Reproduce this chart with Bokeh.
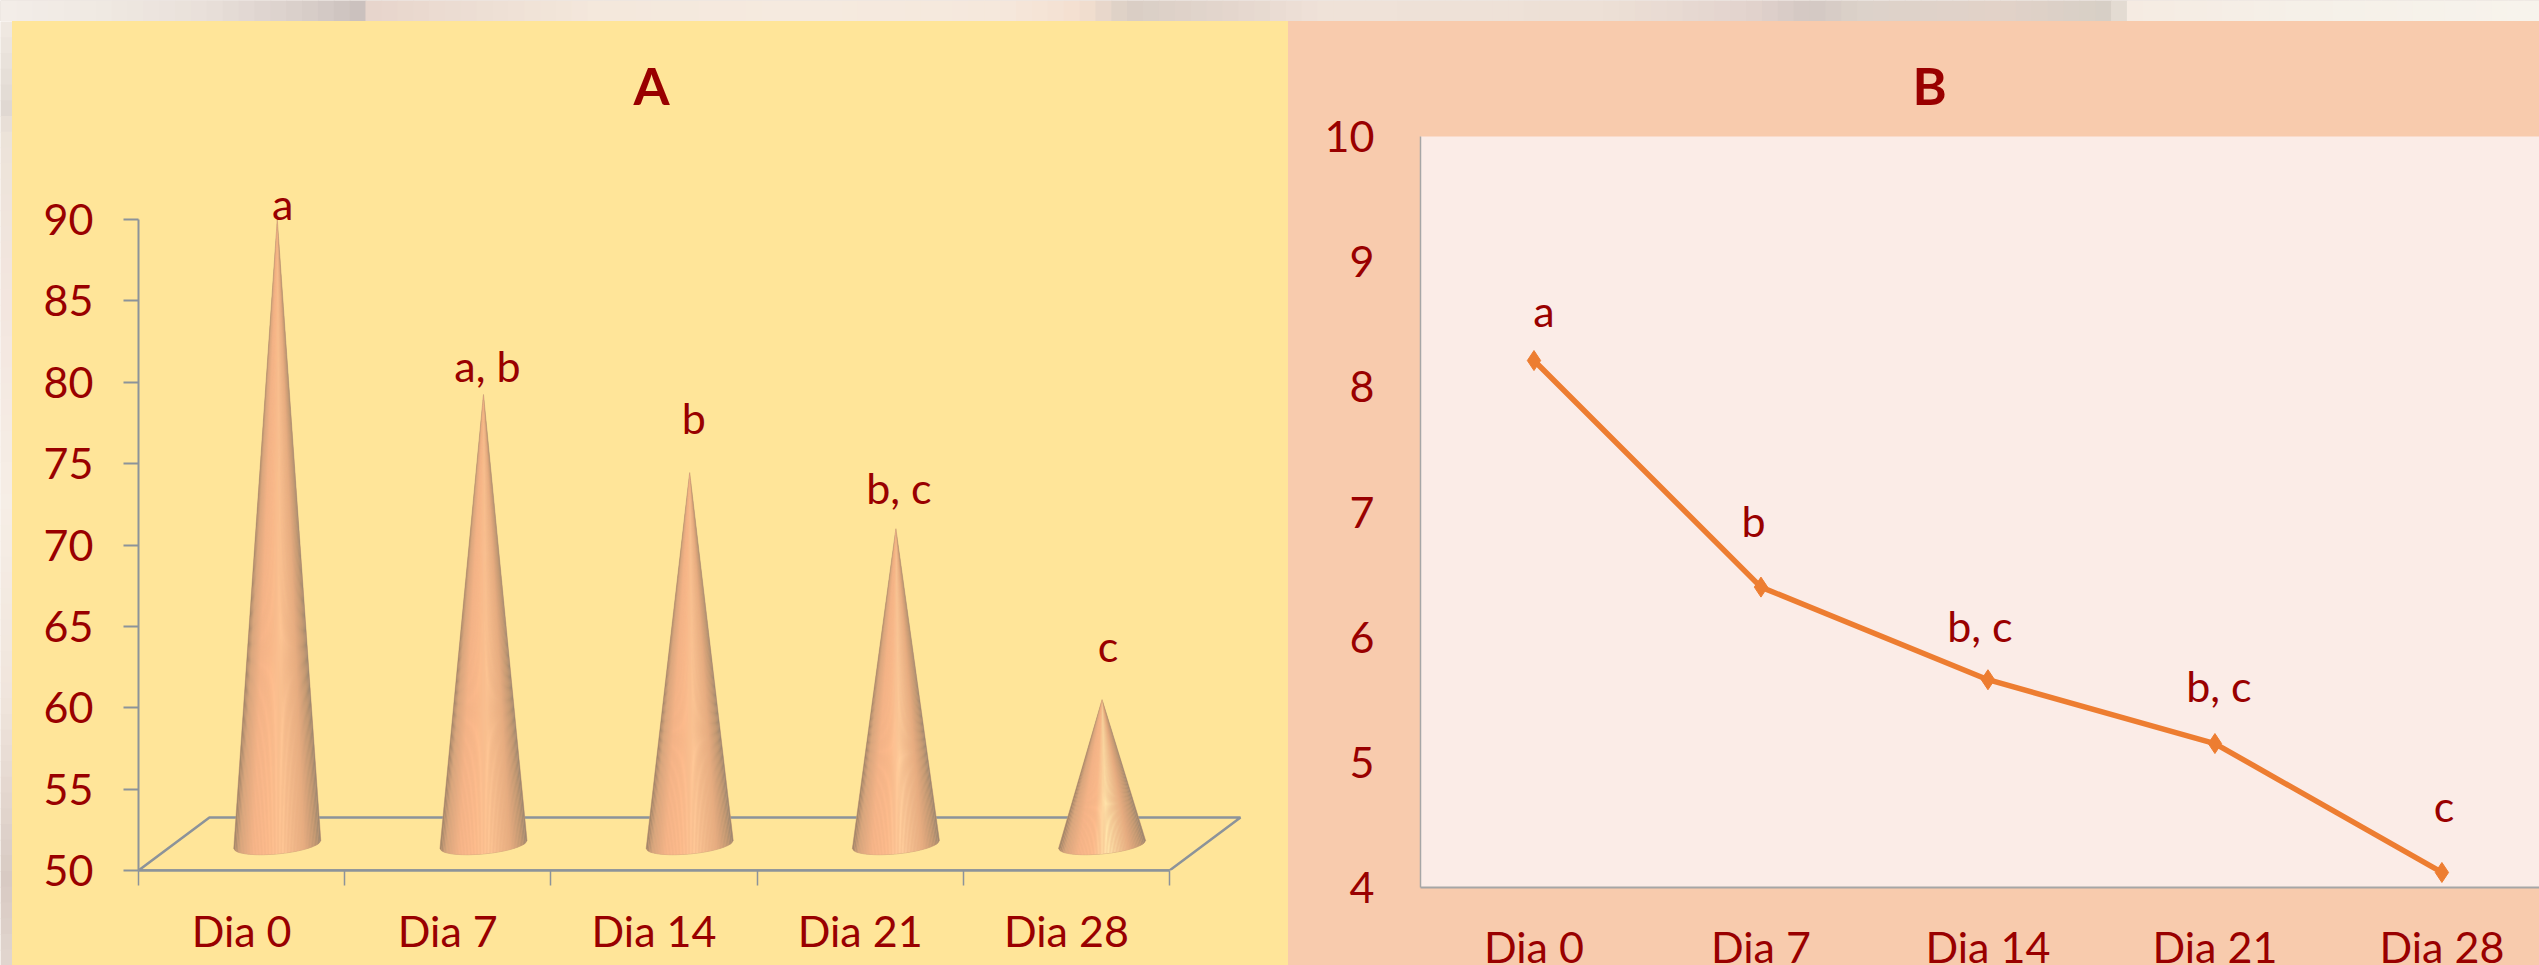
import numpy as np
from bokeh.embed import file_html
from bokeh.resources import INLINE
from bokeh.plotting import figure
from bokeh.models import ColumnDataSource, FixedTicker, LinearAxis, Range1d
from bokeh.layouts import column, row
from bokeh.core.properties import value

# ---- data ----
categories = ["Dia 0", "Dia 7", "Dia 14", "Dia 21", "Dia 28"]
values_a = [90.0, 79.25, 74.45, 71.0, 60.5]
letters_a = ["a", "a, b", "b", "b, c", "c"]
values_b = [8.21, 6.40, 5.66, 5.15, 4.12]
letters_b = ["a", "b", "b, c", "b, c", "c"]
yticks_a = [50, 55, 60, 65, 70, 75, 80, 85, 90]
yticks_b = [4, 5, 6, 7, 8, 9, 10]

# ---- label nudges (screen px) ----
dx_a = [5.5, 4, 4, 3, 6]
dy_a = [-16, -29, -55, -41, -54]
dx_b = [10, -7.5, -8, 4, 2]
dy_b = [-50, -67, -54, -58, -67]

# ---- style ----
FONT = "Lato"
FS = "43px"
RED = "#990000"
YEL = "#FFE599"
PEACH = "#F8CBAD"
PLOT_B = "#FBECE7"
AX_A = "#8C939A"
AX_B = "#A6A6A6"
ORANGE = "#ED7D31"
highlight = ["#FEC594", "#FEC594", "#FEC796", "#FFCD9C", "#FFE4AA"]
top_stops = [(0, "#f3ede8"), (100, "#efe9e2"), (200, "#e9e0da"), (300, "#d9cfca"), (365, "#c9bfbc"),
             (372, "#e7d5cc"), (500, "#eee0d5"), (600, "#f4e8dc"), (800, "#f5eadf"), (1000, "#f5e8dc"),
             (1080, "#f4dfd0"), (1130, "#d9cec5"), (1250, "#e6d8cf"), (1320, "#efe2d8"), (1600, "#ede0d6"),
             (1750, "#e2d3cd"), (1810, "#d3c7c3"), (1860, "#dcd2ca"), (2000, "#e2d2c8"), (2110, "#d6cfc6"),
             (2130, "#f5ebe2"), (2300, "#f5f0e8"), (2539, "#f7f3ec")]
left_stops = [(21, "#f1eae3"), (110, "#e0d8d2"), (130, "#ece3d9"), (300, "#f3e6df"), (500, "#f6eee6"),
              (700, "#f0e5dc"), (880, "#d8cac3"), (965, "#e2d6cf")]


def rgb(h):
    return np.array([int(h[i:i + 2], 16) for i in (1, 3, 5)], float)


def hexc(c):
    return "#%02x%02x%02x" % tuple(int(round(v)) for v in c)


def ramp(stops, pos):
    xs = [s[0] for s in stops]
    cs = np.array([rgb(s[1]) for s in stops])
    return hexc([np.interp(pos, xs, cs[:, k]) for k in range(3)])


def backdrop(width, height, stops, horizontal):
    f = figure(width=width, height=height, frame_width=width, frame_height=height,
               output_backend="svg", toolbar_location=None,
               x_axis_type=None, y_axis_type=None, min_border=0, outline_line_color=None,
               x_range=Range1d(0, width), y_range=Range1d(height, 0),
               border_fill_color=stops[len(stops) // 2][1], background_fill_color=stops[len(stops) // 2][1])
    f.grid.visible = False
    lo, hi = stops[0][0], stops[-1][0]
    n = 160 if horizontal else 60
    edges = np.linspace(lo, hi, n + 1)
    cols = [ramp(stops, (a + b) / 2) for a, b in zip(edges[:-1], edges[1:])]
    e = edges - lo
    if horizontal:
        f.quad(left=e[:-1], right=e[1:] + 1, top=0, bottom=height, fill_color=cols, line_color=None)
    else:
        f.quad(left=0, right=width, top=e[:-1], bottom=e[1:] + 1, fill_color=cols, line_color=None)
    return f


# ---- Panel A ----
pa = figure(width=1276, height=944, frame_width=1150, frame_height=734,
            output_backend="svg", toolbar_location=None,
            x_range=Range1d(0, 5.577), y_range=Range1d(50, 95.1),
            min_border_left=126, min_border_top=115, min_border_bottom=95, min_border_right=0,
            background_fill_color=YEL, border_fill_color=YEL, outline_line_color=None,
            x_axis_type=None, y_axis_type=None, title="A")
pa.styles = {"background-color": YEL}
pa.grid.visible = False
pa.title.align = "left"
pa.title.offset = 495
pa.title.standoff = 40
pa.title.vertical_align = "middle"
pa.title.text_baseline = "middle"
pa.title.text_font = FONT
pa.title.text_font_size = "52px"
pa.title.text_font_style = "bold"
pa.title.text_color = RED

# floor of the 3D box
floor_x = [0, 5, 5.344, 0.344, 0]
floor_y = [50, 50, 53.26, 53.26, 50]
pa.line(floor_x, floor_y, line_color=AX_A, line_width=2.5)

# cones, each one fan of strips from the tip to the elliptical base
edge_stops = [(-1.0, "#A08468"), (-0.86, "#D5A47C"), (-0.55, "#F6B488"), (-0.2, "#FDBB8C"),
              (0.62, "#E6AC80"), (0.88, "#BD9570"), (1.0, "#9C8770")]
for i, v in enumerate(values_a):
    cx = i + 0.673
    ts = np.linspace(-1, 1, 61)
    bx = cx + 0.211 * ts
    by = 51.6 + 0.245 * ts - 0.58 * np.sqrt(1 - ts ** 2)
    pa.patch([cx] + list(bx), [v] + list(by), fill_color="#E9AE82", line_color="#C49A76", line_width=0.6)
    xs, ys, cols = [], [], []
    for k in range(len(ts) - 1):
        tm = (ts[k] + ts[k + 1]) / 2
        stops = sorted(edge_stops + [(0.12, highlight[i])])
        xs.append([cx, bx[k], bx[k + 1]])
        ys.append([v, by[k], by[k + 1]])
        cols.append(ramp(stops, tm))
    pa.patches(xs, ys, fill_color=cols, line_color=None)

src_a = ColumnDataSource(dict(x=[i + 0.673 for i in range(5)], y=values_a, t=letters_a, dx=dx_a, dy=dy_a))
pa.text("x", "y", text="t", x_offset="dx", y_offset="dy", source=src_a, text_font=value(FONT),
        text_font_size=value(FS), text_color=RED, text_align="center", text_baseline="alphabetic")

ya = LinearAxis(ticker=FixedTicker(ticks=yticks_a), bounds=(50, 90))
ya.major_tick_in = 0
ya.major_tick_out = 15
ya.minor_tick_line_color = None
ya.axis_line_color = AX_A
ya.axis_line_width = 2
ya.major_tick_line_color = AX_A
ya.major_tick_line_width = 2
ya.major_label_standoff = 30
ya.major_label_text_font = FONT
ya.major_label_text_font_size = FS
ya.major_label_text_color = RED
pa.add_layout(ya, "left")

xa = LinearAxis(ticker=FixedTicker(ticks=[i + 0.5 for i in range(5)], minor_ticks=[0, 1, 2, 3, 4, 5]),
                major_label_overrides={i + 0.5: c for i, c in enumerate(categories)}, bounds=(0, 5))
xa.axis_line_color = AX_A
xa.axis_line_width = 2.5
xa.major_tick_line_color = None
xa.major_tick_in = 0
xa.major_tick_out = 0
xa.minor_tick_line_color = AX_A
xa.minor_tick_line_width = 1.5
xa.minor_tick_in = 0
xa.minor_tick_out = 15
xa.major_label_standoff = 19
xa.major_label_text_font = FONT
xa.major_label_text_font_size = FS
xa.major_label_text_color = RED
pa.add_layout(xa, "below")

# ---- Panel B ----
pb = figure(width=1251, height=944, frame_width=1119, frame_height=751,
            output_backend="svg", toolbar_location=None,
            x_range=Range1d(0, 4.93), y_range=Range1d(4, 10),
            min_border_left=132, min_border_top=115, min_border_bottom=78, min_border_right=0,
            background_fill_color=PLOT_B, border_fill_color=PEACH, outline_line_color=None,
            x_axis_type=None, y_axis_type=None, title="B")
pb.styles = {"background-color": PEACH}
pb.grid.visible = False
pb.title.align = "left"
pb.title.offset = 492
pb.title.standoff = 40
pb.title.vertical_align = "middle"
pb.title.text_baseline = "middle"
pb.title.text_font = FONT
pb.title.text_font_size = "52px"
pb.title.text_font_style = "bold"
pb.title.text_color = RED

xb = [i + 0.5 for i in range(5)]
pb.line(xb, values_b, line_color=ORANGE, line_width=5.5)
pb.scatter(xb, values_b, marker="diamond", size=20, fill_color=ORANGE, line_color=ORANGE)
src_b = ColumnDataSource(dict(x=xb, y=values_b, t=letters_b, dx=dx_b, dy=dy_b))
pb.text("x", "y", text="t", x_offset="dx", y_offset="dy", source=src_b, text_font=value(FONT),
        text_font_size=value(FS), text_color=RED, text_align="center", text_baseline="alphabetic")

yb = LinearAxis(ticker=FixedTicker(ticks=yticks_b))
yb.major_tick_line_color = None
yb.minor_tick_line_color = None
yb.major_tick_in = 0
yb.major_tick_out = 0
yb.axis_line_color = AX_B
yb.axis_line_width = 1.5
yb.major_label_standoff = 46
yb.major_label_text_font = FONT
yb.major_label_text_font_size = FS
yb.major_label_text_color = RED
pb.add_layout(yb, "left")

xbx = LinearAxis(ticker=FixedTicker(ticks=xb), major_label_overrides={x: c for x, c in zip(xb, categories)})
xbx.major_tick_line_color = None
xbx.minor_tick_line_color = None
xbx.major_tick_in = 0
xbx.major_tick_out = 0
xbx.axis_line_color = AX_B
xbx.axis_line_width = 2
xbx.major_label_standoff = 33
xbx.major_label_text_font = FONT
xbx.major_label_text_font_size = FS
xbx.major_label_text_color = RED
pb.add_layout(xbx, "below")

top = backdrop(2539, 21, top_stops, True)
left = backdrop(12, 944, left_stops, False)
page = column(row(top), row(column(left), column(pa), column(pb), spacing=0), spacing=0)

open("out.html", "w").write(file_html(page, INLINE))
